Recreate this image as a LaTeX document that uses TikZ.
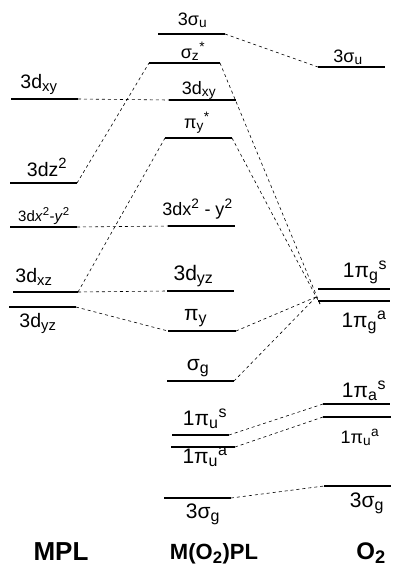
\documentclass[tikz,border=0pt]{standalone}
\usepackage{fontspec}
\setmainfont{Liberation Sans}
\renewcommand\defaultscriptratio{.76}
\newcommand\lev[4]{\coordinate (#1-l) at (#2,#4); \coordinate (#1-r) at (#3,#4); \draw[lvl] (#1-l) -- (#1-r);}
\begin{document}
\begin{tikzpicture}[x=1pt,y=-1pt,
  lvl/.style={line width=2pt},
  cn/.style={line width=0.6pt, dash pattern=on 3pt off 3pt},
  big/.style={anchor=base, inner sep=0pt, font=\fontsize{21}{24}\selectfont},
  med/.style={anchor=base, inner sep=0pt, font=\fontsize{18}{21}\selectfont},
  lft/.style={anchor=base, inner sep=0pt, font=\fontsize{19.5}{22}\selectfont},
  ttl/.style={anchor=base, inner sep=0pt}]
\useasboundingbox (0,0) rectangle (393,566);
% left column (MPL)
\lev{Lxy}{11}{78}{99}
\lev{Lz2}{10}{77}{183}
\lev{Lx2}{10}{77}{227}
\lev{Lxz}{13}{78}{292}
\lev{Lyz}{9}{76}{307}
% middle column
\lev{Msu}{158}{225}{34}
\lev{Msz}{149}{220}{63}
\lev{Mxy}{169}{236}{100}
\lev{Mps}{165}{232}{138}
\lev{Mx2}{168}{235}{226}
\lev{Myz}{167}{234}{291}
\lev{Mpy}{168}{236}{331}
\lev{Msg}{167}{234}{381}
\lev{Mus}{172}{229}{435}
\lev{Mua}{171}{235}{447}
\lev{M3g}{164}{231}{498}
% right column
\lev{Rsu}{318}{385}{67}
\lev{Rgs}{318}{390}{289}
\lev{Rga}{318}{390}{301}
\lev{Ras}{323}{390}{404}
\lev{Rua}{323}{391}{417}
\lev{R3g}{324}{391}{486}
\coordinate (C1) at (316,297);
\coordinate (C2) at (320,304);
% connectors
\draw[cn] (Lxy-r) -- (Mxy-l);
\draw[cn] (Lz2-r) -- (Msz-l);
\draw[cn] (Lx2-r) -- (Mx2-l);
\draw[cn] (Lxz-r) -- (Mps-l);
\draw[cn] (Lxz-r) -- (Myz-l);
\draw[cn] (Lyz-r) -- (Mpy-l);
\draw[cn] (Msu-r) -- (Rsu-l);
\draw[cn] (Msz-r) -- (C2);
\draw[cn] (Mps-r) -- (C2);
\draw[cn] (Mpy-r) -- (C1);
\draw[cn] (Msg-r) -- (C1);
\draw[cn] (Mus-r) -- (Ras-l);
\draw[cn] (Mua-r) -- (Rua-l);
\draw[cn] (M3g-r) -- (R3g-l);
% labels left
\node[lft] (tLxy) at (39,88) {3d\textsubscript{xy}};
\node[lft] (tLz2) at (47,176) {3dz\textsuperscript{2}};
\node[lft,font=\fontsize{15}{17}\selectfont] (tLx2) at (44,221) {3d\textit{x}\textsuperscript{2}-\textit{y}\textsuperscript{2}};
\node[lft] (tLxz) at (34,282) {3d\textsubscript{xz}};
\node[lft] (tLyz) at (38,327) {3d\textsubscript{yz}};
% labels middle
\node[med] (tMsu) at (192.5,25) {3σ\textsubscript{u}};
\node[med] (tMsz) at (193,58) {σ\textsubscript{z}\textsuperscript{*}};
\node[med] (tMxy) at (199,94) {3d\textsubscript{xy}};
\node[med] (tMps) at (197,128) {π\textsubscript{y}\textsuperscript{*}};
\node[med] (tMx2) at (197.5,215) {3dx\textsuperscript{2} - y\textsuperscript{2}};
\node[big] (tMyz) at (193.5,280) {3d\textsubscript{yz}};
\node[big] (tMpy) at (195.5,320) {π\textsubscript{y}};
\node[big] (tMsg) at (198,370) {σ\textsubscript{g}};
\node[big] (tMus) at (205,425) {1π\textsubscript{u}\textsuperscript{s}};
\node[big] (tMua) at (205,463) {1π\textsubscript{u}\textsuperscript{a}};
\node[big] (tM3g) at (203,518) {3σ\textsubscript{g}};
% labels right
\node[med] (tRsu) at (348,62) {3σ\textsubscript{u}};
\node[big] (tRgs) at (365,277) {1π\textsubscript{g}\textsuperscript{s}};
\node[big] (tRga) at (364,327) {1π\textsubscript{g}\textsuperscript{a}};
\node[big] (tRas) at (364,397) {1π\textsubscript{a}\textsuperscript{s}};
\node[med] (tRua) at (360,443) {1π\textsubscript{u}\textsuperscript{a}};
\node[big] (tR3g) at (367,507) {3σ\textsubscript{g}};
% column titles
\node[ttl,font=\fontsize{26}{30}\selectfont\bfseries] (tMPL) at (61,560) {MPL};
\node[ttl,font=\fontsize{22}{26}\selectfont\bfseries] (tMO) at (214,559) {M(O\textsubscript{2})PL};
\node[ttl,font=\fontsize{24}{28}\selectfont\bfseries] (tO2) at (371,559) {O\textsubscript{2}};
\end{tikzpicture}
\end{document}
